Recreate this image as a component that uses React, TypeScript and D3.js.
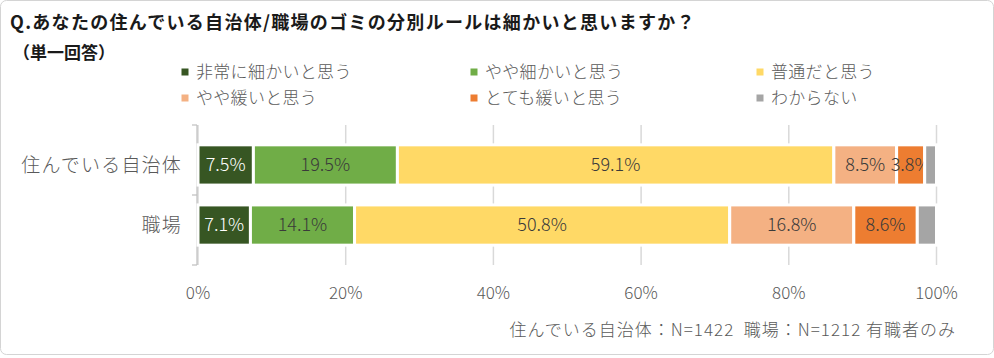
import React from "react";
import * as d3 from "d3";

// 分別ルールの細かさ（単一回答）
const categories = ["住んでいる自治体", "職場"];
const seriesNames = [
  "非常に細かいと思う",
  "やや細かいと思う",
  "普通だと思う",
  "やや緩いと思う",
  "とても緩いと思う",
  "わからない",
];
const municipalityValues = [7.5, 19.5, 59.1, 8.5, 3.8, 1.6];
const workplaceValues = [7.1, 14.1, 50.8, 16.8, 8.6, 2.6];
const seriesColors = ["#375623", "#70ad47", "#ffd966", "#f4b183", "#ed7d31", "#a5a5a5"];
const labelColors = ["#ffffff", "#3a3a3a", "#3a3a3a", "#3a3a3a", "#3a3a3a", "#3a3a3a"];
const xTicks = [0, 20, 40, 60, 80, 100];

const title = "Q.あなたの住んでいる自治体/職場のゴミの分別ルールは細かいと思いますか？";
const subTitle = "（単一回答）";
const footnote = "住んでいる自治体：N=1422  職場：N=1212 有職者のみ";

const width = 994;
const height = 358;
const font = "'Noto Sans CJK JP', 'Noto Sans', sans-serif";

export default function App() {
  const rows = categories.map((c, i) => {
    const vals = i === 0 ? municipalityValues : workplaceValues;
    const row: any = { category: c };
    seriesNames.forEach((s, j) => (row[s] = vals[j]));
    return row;
  });

  const stacked = d3.stack().keys(seriesNames)(rows);

  const x = d3.scaleLinear().domain([0, 100]).range([198, 936.5]);
  const y = d3.scaleBand().domain(categories).range([125, 265]).padding(0.33);

  const legendCols = [185, 474, 760];
  const legendRows = [72, 98];

  return (
    <svg
      width={width}
      height={height}
      style={{ position: "absolute", left: 0, top: 0, fontFamily: font }}
    >
      <rect x={0.5} y={0.5} width={width - 1} height={height - 4} rx={6} fill="#fff" stroke="#d4d4d4" />

      <text x={10} y={29} fontSize={18} fontWeight={700} fill="#1a1a1a" letterSpacing={1.3}>
        {title}
      </text>
      <text x={13} y={59} fontSize={17} fontWeight={700} fill="#1a1a1a">
        {subTitle}
      </text>

      {seriesNames.map((s, i) => {
        const lx = legendCols[i % 3];
        const ly = legendRows[Math.floor(i / 3)];
        return (
          <g key={s}>
            <rect x={lx - 3.5} y={ly - 3.5} width={7} height={7} fill={seriesColors[i]} />
            <text x={lx + 11} y={ly} dy="0.35em" fontSize={17} fontWeight={300} fill="#595959" letterSpacing={0.3}>
              {s}
            </text>
          </g>
        );
      })}

      {xTicks.map((t) => (
        <line key={t} x1={x(t)} x2={x(t)} y1={125} y2={265} stroke="#d9d9d9" strokeWidth={1.5} />
      ))}

      <line x1={197} x2={197} y1={125} y2={265} stroke="#bfbfbf" strokeWidth={1.2} />
      {[125, 195, 265].map((ty) => (
        <line key={ty} x1={192} x2={197} y1={ty} y2={ty} stroke="#bfbfbf" strokeWidth={1.2} />
      ))}

      {stacked.map((layer, i) => (
        <g key={layer.key}>
          {layer.map((d: any) => (
            <rect
              key={d.data.category}
              x={x(d[0])}
              y={y(d.data.category)!}
              width={x(d[1]) - x(d[0])}
              height={y.bandwidth()}
              fill={seriesColors[i]}
              stroke="#fff"
              strokeWidth={3}
            />
          ))}
          {layer.map((d: any) => {
            const v = d[1] - d[0];
            if (v < 3) return null;
            return (
              <text
                key={"l" + d.data.category}
                x={(x(d[0]) + x(d[1])) / 2}
                y={y(d.data.category)! + y.bandwidth() / 2}
                dy="0.35em"
                textAnchor="middle"
                fontSize={18}
                fontWeight={300}
                fill={labelColors[i]}
              >
                {v.toFixed(1) + "%"}
              </text>
            );
          })}
        </g>
      ))}

      {categories.map((c) => (
        <text
          key={c}
          x={182}
          y={y(c)! + y.bandwidth() / 2}
          dy="0.35em"
          textAnchor="end"
          fontSize={19}
          fontWeight={300}
          fill="#595959"
          letterSpacing={1.2}
        >
          {c}
        </text>
      ))}

      {xTicks.map((t) => (
        <text key={t} x={x(t)} y={293} dy="0.35em" textAnchor="middle" fontSize={17} fontWeight={300} fill="#595959">
          {t + "%"}
        </text>
      ))}

      <text
        x={956}
        y={330}
        dy="0.35em"
        textAnchor="end"
        fontSize={17}
        fontWeight={300}
        fill="#595959"
        letterSpacing={1}
        style={{ whiteSpace: "pre" }}
      >
        {footnote}
      </text>
    </svg>
  );
}
